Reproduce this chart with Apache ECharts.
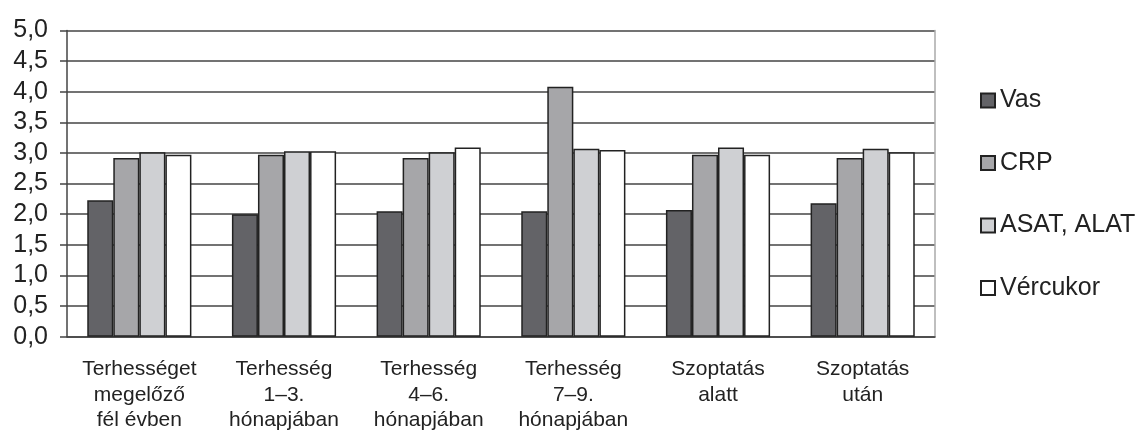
<!DOCTYPE html>
<html>
<head>
<meta charset="utf-8">
<script src="https://cdn.jsdelivr.net/npm/echarts@6/dist/echarts.min.js"></script>
<style>
  html, body { margin: 0; padding: 0; background: #fff; }
  #chart { width: 1142px; height: 431px; }
</style>
</head>
<body>
<div id="chart"></div>
<script>
// időszakok
const categories = [
  'Terhességet\nmegelőző\nfél évben',
  'Terhesség\n1–3.\nhónapjában',
  'Terhesség\n4–6.\nhónapjában',
  'Terhesség\n7–9.\nhónapjában',
  'Szoptatás\nalatt',
  'Szoptatás\nután'
];
const seriesNames = ['Vas', 'CRP', 'ASAT, ALAT', 'Vércukor'];
const vas = [2.23, 2.0, 2.05, 2.05, 2.07, 2.18];
const crp = [2.92, 2.97, 2.92, 4.08, 2.97, 2.92];
const asat = [3.01, 3.03, 3.01, 3.07, 3.09, 3.07];
const vercukor = [2.97, 3.03, 3.09, 3.05, 2.97, 3.01];
const yTicks = [0, 0.5, 1, 1.5, 2, 2.5, 3, 3.5, 4, 4.5, 5];

const colors = ['#636367', '#a6a6a9', '#cfd0d3', '#ffffff'];
const values = [vas, crp, asat, vercukor];

const chart = echarts.init(document.getElementById('chart'));

const option = {
  animation: false,
  textStyle: { fontFamily: 'Liberation Sans, Arial, sans-serif', color: '#222' },
  grid: { left: 67, right: 207, top: 30.5, bottom: 94.3, outerBoundsMode: 'none' },
  legend: {
    orient: 'vertical',
    left: 975,
    top: 83,
    icon: 'rect',
    itemWidth: 14,
    itemHeight: 14,
    itemGap: 37.5,
    data: seriesNames,
    textStyle: { fontSize: 25, color: '#222', lineHeight: 25 }
  },
  xAxis: {
    type: 'category',
    data: categories,
    axisLine: { lineStyle: { color: '#444', width: 1.5 } },
    axisTick: { length: 7, lineStyle: { color: '#444', width: 1.5 } },
    axisLabel: { fontSize: 21, lineHeight: 25.5, margin: 20, color: '#222', interval: 0 }
  },
  yAxis: [
    {
      type: 'value',
      min: 0,
      max: 5,
      interval: 0.5,
      axisLine: { show: true, lineStyle: { color: '#444', width: 1.5 } },
      axisTick: { show: true, length: 7, lineStyle: { color: '#444', width: 1.5 } },
      axisLabel: {
        fontSize: 25,
        margin: 19,
        color: '#222',
        formatter: v => yTicks.includes(v) ? v.toFixed(1).replace('.', ',') : ''
      },
      splitLine: { lineStyle: { color: '#444', width: 1.5 } }
    },
    {
      type: 'value',
      min: 0,
      max: 5,
      interval: 0.5,
      position: 'right',
      axisLine: { show: true, lineStyle: { color: '#aaa', width: 1.5 } },
      axisTick: { show: false },
      axisLabel: { show: false },
      splitLine: { show: false }
    }
  ],
  series: seriesNames.map((name, i) => ({
    name: name,
    type: 'bar',
    data: values[i],
    barGap: '0%',
    barCategoryGap: '28%',
    itemStyle: { color: colors[i], borderColor: '#222', borderWidth: 1.5 }
  }))
};

chart.setOption(option);
</script>
</body>
</html>
